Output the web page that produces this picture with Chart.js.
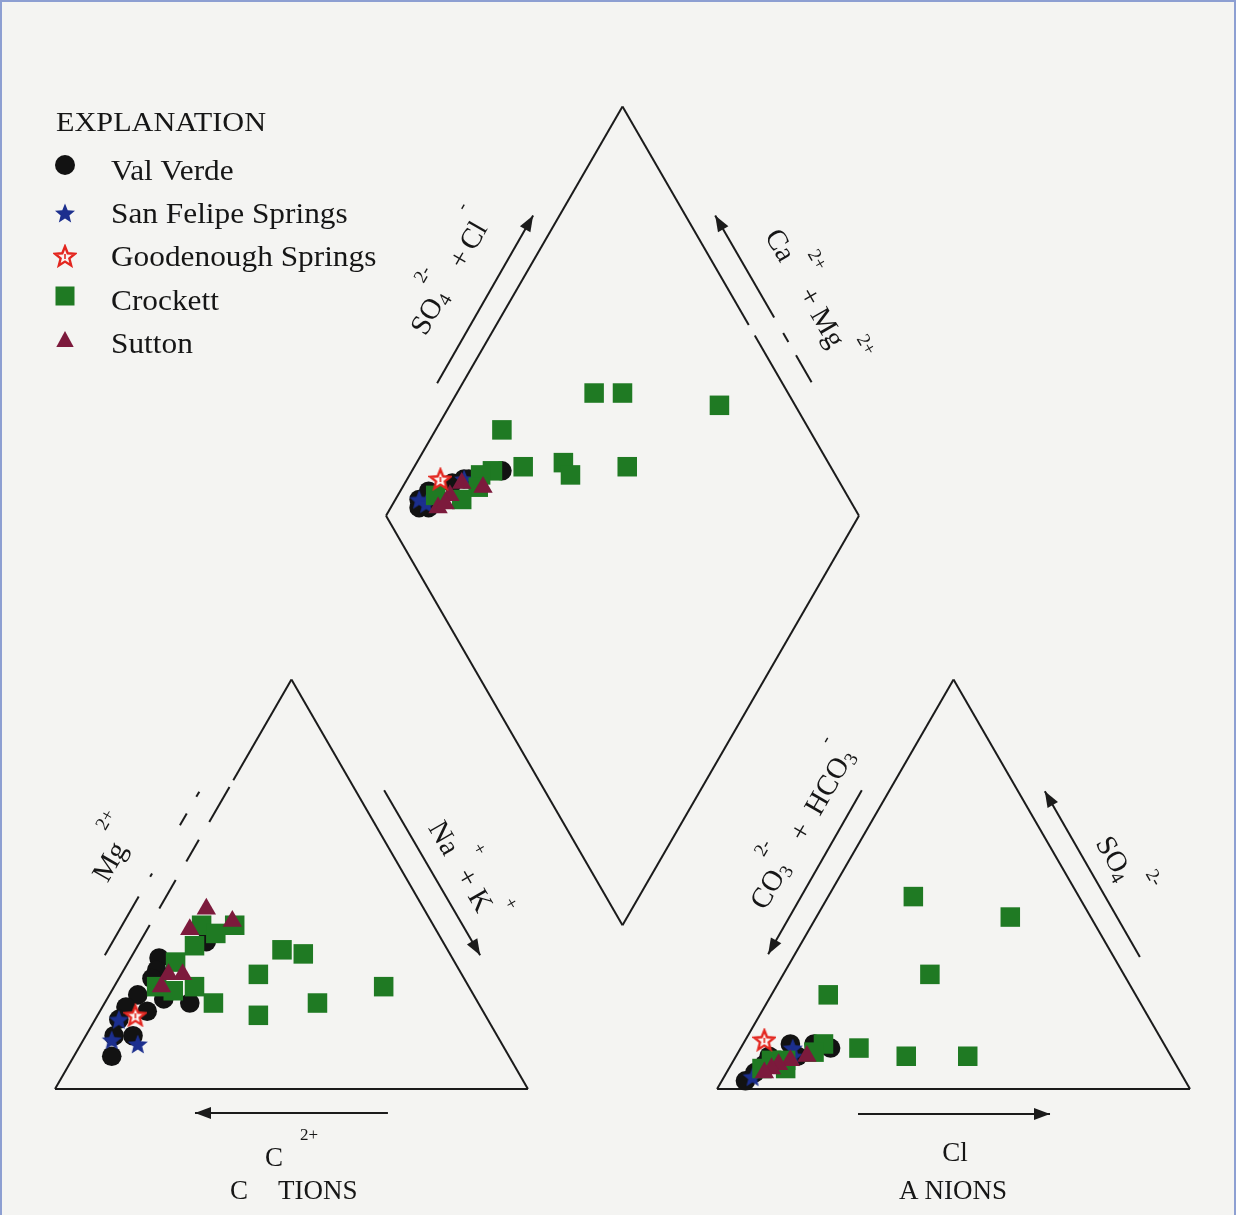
<!DOCTYPE html>
<html lang="en">
<head>
<meta charset="UTF-8">
<title>Piper diagram</title>
<script src="https://cdn.jsdelivr.net/npm/chart.js@4"></script>
<style>
  html, body { margin: 0; padding: 0; background: #f4f4f2; }
  #frame { position: relative; width: 1236px; height: 1215px; overflow: hidden; }
  #piper { position: absolute; left: 0; top: 0; }
  #edge { position: absolute; left: 0; top: 0; right: 0; bottom: 0; border: 2px solid #8d9fd2; border-bottom: none; pointer-events: none; }
</style>
</head>
<body>
<div id="frame">
  <canvas id="piper" width="1236" height="1215"></canvas>
  <div id="edge"></div>
</div>
<script>
// cations: [Ca, Mg, Na+K], percent of total cations
const valVerdeCations = [[62,32,6],[64,29,7],[66,27,7],[71,23,6],[75,20,5],[71,19,10],[61,21,18],[78,17,5],[81,13,6],[77,13,10],[84,8,8],[50,36,14],[66,22,12]];
const sanFelipeCations = [[78,17,5],[82,12,6],[77,11,12]];
const goodenoughCations = [[74,18,8]];
const crockettCations = [[42,40,18],[49,40,11],[47,38,15],[53,35,12],[59,31,10],[35,34,31],[31,33,36],[43,28,29],[66,25,9],[58,25,17],[63,24,13],[56,21,23],[48,18,34],[34,21,45],[18,25,57]];
const suttonCations = [[46,44,10],[42,41,17],[52,39,9],[62,28,10],[59,28,13],[65,25,10]];

// anions: [CO3+HCO3, SO4, Cl], percent of total anions
const valVerdeAnions = [[71,10,19],[93,2,5],[90,4,6],[79,11,10],[79,8,13],[87,6,7],[85,8,7],[74,11,15]];
const sanFelipeAnions = [[91,3,6],[79,10,11],[80,8,12]];
const goodenoughAnions = [[84,12,4]];
const crockettAnions = [[35,47,18],[17,42,41],[41,28,31],[65,23,12],[65,10,25],[56,8,36],[43,8,49],[72,11,17],[75,9,16],[82,7,11],[85,7,8],[83,5,12],[88,5,7]];
const suttonAnions = [[77,8,15],[81,7,12],[84,6,10],[86,5,9],[88,4,8]];

// diamond: [Ca+Mg, SO4+Cl]
const valVerdeDiamond = [[94,8],[95,9],[94,12],[90,18],[88,21],[87,22],[92,10],[81,30]];
const sanFelipeDiamond = [[95,9],[88,21],[93,10]];
const goodenoughDiamond = [[93,16]];
const crockettDiamond = [[71,59],[65,65],[43,84],[86,35],[77,35],[69,44],[66,44],[55,57],[83,28],[85,25],[84,23],[86,18],[92,13]];
const suttonDiamond = [[83,24],[88,20],[89,16],[90,12],[89,14]];

const seriesNames = ['Val Verde', 'San Felipe Springs', 'Goodenough Springs', 'Crockett', 'Sutton'];

const H = Math.sqrt(3) / 2;
const GAP = 40;
const INK = '#1b1b1b';
const SERIF = '"Liberation Serif", "Times New Roman", serif';

function cationXY(p) { return { x: p[2] + p[1] / 2, y: p[1] * H }; }
function anionXY(p) { return { x: 100 + GAP + p[2] + p[1] / 2, y: p[1] * H }; }
function diamondXY(p) { return { x: 100 + GAP / 2 + (p[1] - p[0]) / 2, y: GAP * H + (p[0] + p[1]) * H }; }

function starCanvas(fill, stroke) {
  const c = document.createElement('canvas');
  c.width = c.height = 24;
  const g = c.getContext('2d');
  const R = 10.5, r = 4.6, cx = 12, cy = 13;
  g.beginPath();
  for (let i = 0; i < 10; i++) {
    const a = -Math.PI / 2 + i * Math.PI / 5;
    const rr = i % 2 ? r : R;
    g.lineTo(cx + rr * Math.cos(a), cy + rr * Math.sin(a));
  }
  g.closePath();
  g.fillStyle = fill;
  g.fill();
  if (stroke) {
    g.lineWidth = 2.4;
    g.strokeStyle = stroke;
    g.stroke();
    g.fillStyle = stroke;
    g.fillRect(cx - 0.8, cy - 3, 1.6, 5);
  }
  return c;
}
const blueStar = starCanvas('#1c2f8e');
const redStar = starCanvas('#fbf3f0', '#e3261f');

const groups = [
  { cat: valVerdeCations, an: valVerdeAnions, dia: valVerdeDiamond, style: 'circle', radius: 9.8, color: '#121212', order: 5 },
  { cat: sanFelipeCations, an: sanFelipeAnions, dia: sanFelipeDiamond, style: blueStar, radius: 10, color: '#1c2f8e', order: 4 },
  { cat: goodenoughCations, an: goodenoughAnions, dia: goodenoughDiamond, style: redStar, radius: 10, color: '#e3261f', order: 1 },
  { cat: crockettCations, an: crockettAnions, dia: crockettDiamond, style: 'rect', radius: 13.8, color: '#1f7a23', order: 3 },
  { cat: suttonCations, an: suttonAnions, dia: suttonDiamond, style: 'triangle', radius: 11.2, color: '#7c1a3c', order: 2 }
];

const pointSets = groups.map((g, i) => ({
  label: seriesNames[i],
  data: [...g.cat.map(cationXY), ...g.an.map(anionXY), ...g.dia.map(diamondXY)],
  pointStyle: g.style,
  pointRadius: g.radius,
  pointHoverRadius: g.radius,
  pointBackgroundColor: g.color,
  pointBorderWidth: 0,
  order: g.order,
  clip: false
}));

// outlines of the two triangles and the diamond
function seg(a, b) {
  return { data: [{ x: a[0], y: a[1] }, { x: b[0], y: b[1] }], showLine: true, borderColor: INK, borderWidth: 2,
    pointRadius: 0, pointHoverRadius: 0, order: 10, clip: false };
}
function atY(a, b, y) { const t = (y - a[1]) / (b[1] - a[1]); return [a[0] + t * (b[0] - a[0]), y]; }
function pieces(a, b, ranges) { return ranges.map(([y0, y1]) => seg(atY(a, b, y0), atY(a, b, y1))); }

const apexY = 100 * H;
const dBot = [120, GAP * H], dLeft = [70, (GAP + 100) * H], dRight = [170, (GAP + 100) * H], dTop = [120, (GAP + 200) * H];
const frameSets = [
  seg([0, 0], [100, 0]), seg([100, 0], [50, apexY]),
  ...pieces([0, 0], [50, apexY], [[0, 34.7], [38.2, 44.2], [48.1, 52.7], [56.5, 63.9], [65.3, apexY]]),
  seg([140, 0], [240, 0]), seg([240, 0], [190, apexY]), seg([140, 0], [190, apexY]),
  seg(dBot, dLeft), seg(dLeft, dTop), seg(dBot, dRight),
  ...pieces(dRight, dTop, [[dRight[1], 159.4], [161.6, dTop[1]]])
];

// arrows beside the axes: [from, to, head?]
const T = 1 / Math.sqrt(3);
const arrows = [
  [[70.4, -5.1], [29.6, -5.1], true],
  [[169.8, -5.3], [210.4, -5.3], true],
  [[69.6, 63.2], [89.9, 28.3], true],
  [[170.6, 63.2], [150.8, 28.5], true],
  [[229.4, 27.9], [209.3, 63.0], true],
  [[80.8, 149.3], [101.1, 184.8], true],
  [[139.6 + (184.8 - 163.2) * T, 163.2], [139.6, 184.8], true],
  [[139.6 + (184.8 - 159.9) * T, 159.9], [139.6 + (184.8 - 158.0) * T, 158.0], false],
  [[139.6 + (184.8 - 155.2) * T, 155.2], [139.6 + (184.8 - 149.5) * T, 149.5], false],
  ...[[28.3, 40.7], [44.9, 45.6], [55.8, 58.3], [61.8, 62.9]].map(([y0, y1]) => [[y0 * T - 5.8, y0], [y1 * T - 5.8, y1], false])
];

const DEG = Math.PI / 180;
const labels = [
  { at: [83.65, 172.5], rot: -60, size: 29, parts: [['SO', 'n', 0], ['4', 'sub', 0], ['2-', 'sup', -2], ['+', 'n', 16], ['Cl', 'n', 5], ['-', 'sup', 3]] },
  { at: [160.0, 167.3], rot: 60, size: 29, parts: [['Ca', 'n', 0], ['2+', 'sup', 5], ['+ Mg', 'n', 10], ['2+', 'sup', 4]] },
  { at: [86.6, 46.0], rot: 60, size: 29, parts: [['Na', 'n', 0], ['+', 'sup', 5], ['+', 'n', 5], ['K', 'n', 8], ['+', 'sup', 2]] },
  { at: [12.7, 50.4], rot: -60, size: 29, parts: [['Mg', 'n', 0], ['2+', 'sup', 4]] },
  { at: [158.0, 55.3], rot: -60, size: 29, parts: [['CO', 'n', 0], ['3', 'sub', 0], ['2-', 'sup', -4], ['+', 'n', 17], ['HCO', 'n', 14], ['3', 'sub', 0], ['-', 'sup', -4]] },
  { at: [225.3, 46.9], rot: 60, size: 29, parts: [['SO', 'n', 0], ['4', 'sub', -1], ['2-', 'sup', 6]] },
  { at: [50.0, -14.4], rot: 0, size: 27, parts: [['C', 'n', 0], ['2+', 'sup', 17]] },
  { at: [50.5, -21.4], rot: 0, size: 27, parts: [['C', 'n', 0], ['TIONS', 'n', 30]] },
  { at: [190.3, -13.3], rot: 0, size: 27, parts: [['Cl', 'n', 0]] },
  { at: [189.9, -21.4], rot: 0, size: 27, parts: [['A', 'n', 0], ['NIONS', 'n', 6]] }
];

function drawRich(ctx, parts, cx, cy, angle, size) {
  const small = Math.round(size * 0.64);
  const fontFor = k => (k === 'n' ? size : small) + 'px ' + SERIF;
  const widths = [];
  let w = 0;
  parts.forEach(([t, k, g]) => { ctx.font = fontFor(k); const m = ctx.measureText(t).width; widths.push(m); w += g + m; });
  ctx.save();
  ctx.translate(cx, cy);
  ctx.rotate(angle);
  ctx.textBaseline = 'alphabetic';
  ctx.textAlign = 'left';
  const base = size * 0.34;
  let x = -w / 2;
  parts.forEach(([t, k, g], i) => {
    x += g;
    ctx.font = fontFor(k);
    const dy = k === 'sup' ? base - size * 0.97 : k === 'sub' ? base + size * 0.15 : base;
    ctx.fillText(t, x, dy);
    x += widths[i];
  });
  ctx.restore();
}

function drawArrow(ctx, a, b, head) {
  ctx.beginPath();
  ctx.moveTo(a[0], a[1]);
  ctx.lineTo(b[0], b[1]);
  ctx.stroke();
  if (!head) return;
  const ang = Math.atan2(b[1] - a[1], b[0] - a[0]);
  const L = 16, W = 6;
  ctx.beginPath();
  ctx.moveTo(b[0], b[1]);
  ctx.lineTo(b[0] - L * Math.cos(ang) + W * Math.sin(ang), b[1] - L * Math.sin(ang) - W * Math.cos(ang));
  ctx.lineTo(b[0] - L * Math.cos(ang) - W * Math.sin(ang), b[1] - L * Math.sin(ang) + W * Math.cos(ang));
  ctx.closePath();
  ctx.fill();
}

function legendMarker(ctx, style, x, y, color) {
  if (typeof style !== 'string') { ctx.drawImage(style, x - 12, y - 12); return; }
  ctx.fillStyle = color;
  ctx.beginPath();
  if (style === 'circle') ctx.arc(x, y, 10, 0, Math.PI * 2);
  if (style === 'rect') ctx.rect(x - 9.5, y - 9.5, 19, 19);
  if (style === 'triangle') { ctx.moveTo(x, y - 10); ctx.lineTo(x + 8.7, y + 6); ctx.lineTo(x - 8.7, y + 6); ctx.closePath(); }
  ctx.fill();
}

function stretchedText(ctx, text, x, y, size, sx) {
  ctx.save();
  ctx.font = size + 'px ' + SERIF;
  ctx.translate(x, y);
  ctx.scale(sx, 1);
  ctx.fillText(text, 0, 0);
  ctx.restore();
}

const piperDecor = {
  id: 'piperDecor',
  afterDatasetsDraw(chart) {
    const ctx = chart.ctx;
    const xs = chart.scales.x, ys = chart.scales.y;
    const px = p => [xs.getPixelForValue(p[0]), ys.getPixelForValue(p[1])];
    ctx.save();
    ctx.strokeStyle = INK;
    ctx.fillStyle = INK;
    ctx.lineWidth = 2;
    arrows.forEach(([a, b, head]) => drawArrow(ctx, px(a), px(b), head));
    ctx.fillStyle = '#161616';
    labels.forEach(l => { const c = px(l.at); drawRich(ctx, l.parts, c[0], c[1], l.rot * DEG, l.size); });

    // explanation box
    ctx.textBaseline = 'alphabetic';
    ctx.textAlign = 'left';
    stretchedText(ctx, 'EXPLANATION', 56, 131, 28, 1.08);
    const rows = [180, 223, 266, 310, 353];
    const markY = [165, 213, 256, 296, 341];
    groups.forEach((g, i) => {
      legendMarker(ctx, g.style, 65, markY[i], g.color);
      ctx.fillStyle = '#161616';
      stretchedText(ctx, seriesNames[i], 111, rows[i], 29, 1.08);
    });
    ctx.restore();
  }
};

const canvas = document.getElementById('piper');
const PAD = { left: 55, right: 46, bottom: 126 };
const X_MAX = 240, Y_MAX = 220;
const unit = (1236 - PAD.left - PAD.right) / X_MAX;
PAD.top = Math.round(1215 - PAD.bottom - Y_MAX * unit);

new Chart(canvas, {
  type: 'scatter',
  data: { datasets: [...frameSets, ...pointSets] },
  options: {
    responsive: false,
    animation: false,
    layout: { padding: PAD },
    scales: {
      x: { type: 'linear', min: 0, max: X_MAX, display: false },
      y: { type: 'linear', min: 0, max: Y_MAX, display: false }
    },
    plugins: { legend: { display: false }, tooltip: { enabled: false } }
  },
  plugins: [piperDecor]
});
</script>
</body>
</html>
